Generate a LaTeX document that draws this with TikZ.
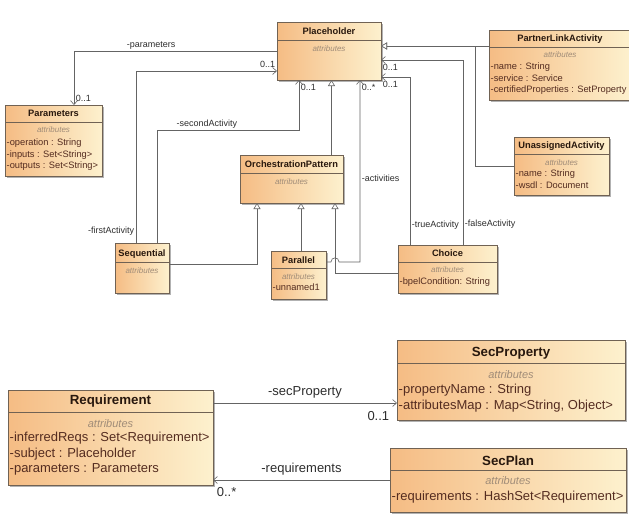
\documentclass[tikz,border=0pt]{standalone}
\usepackage{fontspec}
\setmainfont{Liberation Sans}
\usetikzlibrary{arrows.meta,shadows}
\definecolor{boxleft}{RGB}{245,188,132}
\definecolor{boxright}{RGB}{253,241,206}
\definecolor{boxline}{RGB}{112,98,84}
\definecolor{titlecol}{RGB}{40,24,14}
\definecolor{rowcol}{RGB}{84,44,32}
\definecolor{attrcol}{RGB}{160,140,120}
\definecolor{wirecol}{RGB}{100,100,100}
\definecolor{labelcol}{RGB}{45,45,45}
\tikzset{
  classbox/.style={draw=boxline, line width=0.6pt, left color=boxleft, right color=boxright,
    anchor=north west, inner sep=0pt, outer sep=0pt,
    drop shadow={shadow xshift=1.5pt, shadow yshift=-1.5pt, opacity=0.3, fill=black}},
  ttl/.style={font=\bfseries\fontsize{9.3}{11}\selectfont, text=titlecol, inner sep=0pt,
    text height=6.7pt, text depth=0pt},
  bigttl/.style={ttl, font=\bfseries\fontsize{13.3}{15}\selectfont, text height=9.5pt},
  attr/.style={font=\itshape\fontsize{8}{9}\selectfont, text=attrcol, inner sep=0pt,
    text height=5.7pt, text depth=0pt},
  bigattr/.style={attr, font=\itshape\fontsize{11}{12}\selectfont, text height=7.9pt},
  rows/.style={font=\fontsize{9.3}{11.5}\selectfont, text=rowcol, align=left,
    anchor=north west, inner sep=0pt},
  bigrows/.style={rows, font=\fontsize{13}{15.5}\selectfont},
  sepline/.style={draw=boxline, line width=0.5pt},
  wire/.style={draw=wirecol, line width=0.6pt},
  assoc/.style={wire, -{Straight Barb[length=4pt, width=7pt]}},
  gen/.style={wire, -{Triangle[open, length=6pt, width=7pt, fill=white]}},
  lbl/.style={font=\fontsize{9}{11}\selectfont, text=labelcol, inner sep=1.5pt},
  biglbl/.style={lbl, font=\fontsize{13}{15}\selectfont},
}
\begin{document}
\begin{tikzpicture}[x=1pt, y=-1pt]
  \useasboundingbox (0,0) rectangle (629,514);

  \node[classbox, minimum width=104pt, minimum height=58pt] (ph) at (277,22) {};
  \node[ttl] (ph-t) at ([yshift=-9pt]ph.north) {Placeholder};
  \draw[sepline] ([yshift=-18pt]ph.north west) -- ([yshift=-18pt]ph.north east);
  \node[attr] (ph-a) at ([yshift=-27pt]ph.north) {attributes};

  \node[classbox, minimum width=97pt, minimum height=71pt] (param) at (5,105) {};
  \node[ttl] (param-t) at ([yshift=-8pt]param.north) {Parameters};
  \draw[sepline] ([yshift=-17pt]param.north west) -- ([yshift=-17pt]param.north east);
  \node[attr] (param-a) at ([yshift=-25pt]param.north) {attributes};
  \node[rows] (param-r) at ([xshift=1.5pt, yshift=-33.8pt]param.north west)
    {-operation : String\\-inputs : Set<String>\\-outputs : Set<String>};

  \node[classbox, minimum width=142pt, minimum height=70pt] (pla) at (489,30) {};
  \node[ttl] (pla-t) at ([yshift=-8pt]pla.north) {PartnerLinkActivity};
  \draw[sepline] ([yshift=-17pt]pla.north west) -- ([yshift=-17pt]pla.north east);
  \node[attr] (pla-a) at ([yshift=-25pt]pla.north) {attributes};
  \node[rows] (pla-r) at ([xshift=1.5pt, yshift=-32.8pt]pla.north west)
    {-name : String\\-service : Service\\-certifiedProperties : SetProperty};

  \node[classbox, minimum width=95pt, minimum height=58pt] (ua) at (514,137) {};
  \node[ttl] (ua-t) at ([yshift=-8pt]ua.north) {UnassignedActivity};
  \draw[sepline] ([yshift=-17pt]ua.north west) -- ([yshift=-17pt]ua.north east);
  \node[attr] (ua-a) at ([yshift=-26pt]ua.north) {attributes};
  \node[rows] (ua-r) at ([xshift=1.5pt, yshift=-32.8pt]ua.north west)
    {-name : String\\-wsdl : Document};

  \node[classbox, minimum width=103pt, minimum height=48pt] (op) at (240,155) {};
  \node[ttl] (op-t) at ([yshift=-9pt]op.north) {OrchestrationPattern};
  \draw[sepline] ([yshift=-18pt]op.north west) -- ([yshift=-18pt]op.north east);
  \node[attr] (op-a) at ([yshift=-27pt]op.north) {attributes};

  \node[classbox, minimum width=54pt, minimum height=50pt] (seq) at (115,243) {};
  \node[ttl] (seq-t) at ([yshift=-10pt]seq.north) {Sequential};
  \draw[sepline] ([yshift=-19pt]seq.north west) -- ([yshift=-19pt]seq.north east);
  \node[attr] (seq-a) at ([yshift=-28pt]seq.north) {attributes};

  \node[classbox, minimum width=55pt, minimum height=48pt] (par) at (271,251) {};
  \node[ttl] (par-t) at ([yshift=-9pt]par.north) {Parallel};
  \draw[sepline] ([yshift=-17pt]par.north west) -- ([yshift=-17pt]par.north east);
  \node[attr] (par-a) at ([yshift=-26pt]par.north) {attributes};
  \node[rows] (par-r) at ([xshift=1.5pt, yshift=-32.8pt]par.north west) {-unnamed1};

  \node[classbox, minimum width=99pt, minimum height=48pt] (ch) at (398,245) {};
  \node[ttl] (ch-t) at ([yshift=-8pt]ch.north) {Choice};
  \draw[sepline] ([yshift=-17pt]ch.north west) -- ([yshift=-17pt]ch.north east);
  \node[attr] (ch-a) at ([yshift=-25pt]ch.north) {attributes};
  \node[rows] (ch-r) at ([xshift=1.5pt, yshift=-32.8pt]ch.north west) {-bpelCondition: String};

  \node[classbox, minimum width=205pt, minimum height=95pt] (req) at (8,390) {};
  \node[bigttl] (req-t) at ([yshift=-10pt]req.north) {Requirement};
  \draw[sepline] ([yshift=-22pt]req.north west) -- ([yshift=-22pt]req.north east);
  \node[bigattr] (req-a) at ([yshift=-34pt]req.north) {attributes};
  \node[bigrows] (req-r) at ([xshift=1.5pt, yshift=-42.3pt]req.north west)
    {-inferredReqs : Set<Requirement>\\-subject : Placeholder\\-parameters : Parameters};

  \node[classbox, minimum width=228pt, minimum height=80pt] (sp) at (397,340) {};
  \node[bigttl] (sp-t) at ([yshift=-12pt]sp.north) {SecProperty};
  \draw[sepline] ([yshift=-23pt]sp.north west) -- ([yshift=-23pt]sp.north east);
  \node[bigattr] (sp-a) at ([yshift=-35pt]sp.north) {attributes};
  \node[bigrows] (sp-r) at ([xshift=1.5pt, yshift=-44.3pt]sp.north west)
    {-propertyName : String\\-attributesMap : Map<String, Object>};

  \node[classbox, minimum width=236pt, minimum height=64pt] (spl) at (390,448) {};
  \node[bigttl] (spl-t) at ([yshift=-13pt]spl.north) {SecPlan};
  \draw[sepline] ([yshift=-22pt]spl.north west) -- ([yshift=-22pt]spl.north east);
  \node[bigattr] (spl-a) at ([yshift=-33pt]spl.north) {attributes};
  \node[bigrows] (spl-r) at ([xshift=1.5pt, yshift=-43.3pt]spl.north west)
    {-requirements : HashSet<Requirement>};

  \coordinate (gx) at ([xshift=43.5pt]op.south);
  \coordinate (ay) at ([yshift=13pt]par.east);
  \coordinate (hop) at (gx |- ay);

  \draw[gen] ([yshift=19pt]pla.west) -- ([yshift=5pt]ph.east);
  \draw[gen] (ua.west) -- ++(-39,0) |- ([yshift=5pt]ph.east);
  \draw[gen] ([xshift=40pt]op.north) -- ([xshift=2.5pt]ph.south);
  \draw[gen] ([yshift=4pt]seq.east) -| ([xshift=-34.5pt]op.south);
  \draw[gen] ([xshift=2.5pt]par.north) -- ([xshift=9.5pt]op.south);
  \draw[gen] ([yshift=-4pt]ch.west) -| (gx);

  \draw[assoc] (ph.west) -| node[lbl, above, pos=0.31] (l-params) {-parameters}
    node[lbl, pos=1, above right, yshift=2pt] (m-params) {0..1} ([xshift=20.5pt]param.north);
  \draw[assoc] ([xshift=-6pt]seq.north) |- node[lbl, left, pos=0.035] (l-first) {-firstActivity}
    node[lbl, pos=1, above left, yshift=2pt] (m-first) {0..1} ([yshift=-20pt]ph.west);
  \draw[assoc] ([xshift=15pt]seq.north) |- node[lbl, above, pos=0.676] (l-second) {-secondActivity}
    ([xshift=-30pt, yshift=-50pt]ph.south) -- node[lbl, pos=1, below right, yshift=-2pt] (m-second) {0..1}
    ([xshift=-30pt]ph.south);
  \draw[assoc] (ay) -- ([xshift=-4pt]hop)
    .. controls ([xshift=-4pt, yshift=5.5pt]hop) and ([xshift=4pt, yshift=5.5pt]hop) .. ([xshift=4pt]hop)
    -| node[lbl, right, pos=0.73] (l-act) {-activities}
    node[lbl, pos=1, below right, yshift=-2pt] (m-act) {0..*} ([xshift=31pt]ph.south);
  \draw[assoc] ([xshift=-37.5pt]ch.north) |- node[lbl, right, pos=0.06] (l-true) {-trueActivity}
    node[lbl, pos=1, below right, yshift=-2pt] (m-true) {0..1} ([yshift=-26pt]ph.east);
  \draw[assoc] ([xshift=15.5pt]ch.north) |- node[lbl, right, pos=0.057] (l-false) {-falseActivity}
    node[lbl, pos=1, below right, yshift=-2pt] (m-false) {0..1} ([yshift=-9pt]ph.east);

  \draw[assoc] ([yshift=-13pt]req.north east) -- node[biglbl, above=3pt] (l-secprop) {-secProperty}
    node[biglbl, pos=1, anchor=north east, xshift=-6pt, yshift=-7pt] (m-secprop) {0..1}
    ([yshift=-23pt]sp.west);
  \draw[assoc] (spl.west) -- node[biglbl, above=3pt] (l-reqs) {-requirements}
    node[biglbl, pos=1, anchor=north west, xshift=2pt, yshift=-6pt] (m-reqs) {0..*}
    (spl.west -| req.east);
\end{tikzpicture}
\end{document}
